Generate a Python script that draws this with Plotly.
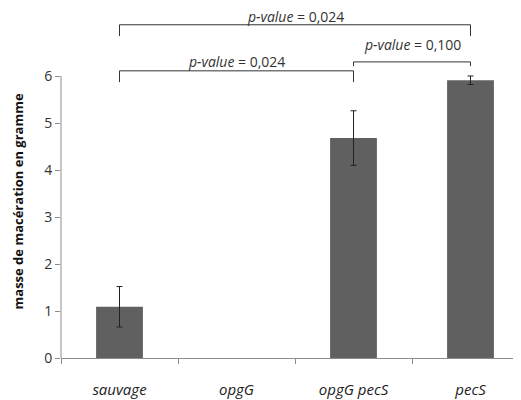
import plotly.graph_objects as go

# Données
souches = ['sauvage', 'opgG', 'opgG pecS', 'pecS']
masse = [1.09, 0.0, 4.68, 5.91]
erreur = [0.43, 0.0, 0.58, 0.09]

# comparaisons : (indice gauche, indice droit, hauteur barre, hauteur pieds, texte, hauteur texte)
comparaisons = [
    (0, 3, 7.09, 6.85, 'p-value = 0,024', 7.27),
    (2, 3, 6.30, 6.21, 'p-value = 0,100', 6.67),
    (0, 2, 6.11, 5.87, 'p-value = 0,024', 6.31),
]

GRIS_BARRE = '#606060'
GRIS_AXE = '#8c8c8c'
POLICE = 'Open Sans'

# une barre nulle n'est pas dessinée (ni sa barre d'erreur)
y_barres = [v if v > 0 else None for v in masse]
err_barres = [e if v > 0 else None for v, e in zip(masse, erreur)]

fig = go.Figure()
fig.add_trace(go.Bar(
    x=[f'<i>{s}</i>' for s in souches],
    y=y_barres,
    width=0.4,
    marker=dict(color=GRIS_BARRE, line=dict(width=0)),
    error_y=dict(type='data', array=err_barres, color='#222222', thickness=1, width=3),
    showlegend=False
))

# crochets des p-values
for i, j, y_haut, y_pied, texte, y_texte in comparaisons:
    fig.add_shape(type='path',
                  path=f'M {i},{y_pied} L {i},{y_haut} L {j},{y_haut} L {j},{y_pied}',
                  xref='x', yref='y', line=dict(color='#333333', width=1))
    pv, reste = texte.split(' = ')
    fig.add_annotation(x=(i + j) / 2, y=y_texte, xref='x', yref='y',
                       text=f'<i>{pv}</i> = {reste}', showarrow=False,
                       font=dict(family=POLICE, size=14, color='#333333'))

# ligne de l'axe y seulement de 0 à 6
fig.add_shape(type='line', xref='paper', yref='y', x0=0, x1=0, y0=0, y1=6,
              line=dict(color=GRIS_AXE, width=1))

# titre de l'axe y
fig.add_annotation(x=0, y=3.33, xref='paper', yref='y', xshift=-43,
                   text='<b>masse de macération en gramme</b>', textangle=-90,
                   showarrow=False, xanchor='center', yanchor='middle',
                   font=dict(family=POLICE, size=13, color='#111111'))

fig.update_layout(
    width=521, height=400,
    margin=dict(l=53, r=0, t=0, b=50, autoexpand=False),
    plot_bgcolor='white', paper_bgcolor='white',
    font=dict(family=POLICE, color='#333333'),
    xaxis=dict(
        range=[-0.5, 3.5],
        showline=True, linecolor=GRIS_AXE, linewidth=1,
        ticks='outside', tickson='boundaries', ticklen=5, tickcolor=GRIS_AXE,
        tickfont=dict(size=15, color='#222222'), ticklabelstandoff=18,
        showgrid=False, zeroline=False, automargin=False
    ),
    yaxis=dict(
        range=[0, 7.447],
        tickvals=[0, 1, 2, 3, 4, 5, 6],
        ticks='outside', ticklen=5, tickcolor=GRIS_AXE,
        tickfont=dict(size=14, color='#333333'),
        showline=False, showgrid=False, zeroline=False, automargin=False
    )
)

fig.write_html('out.html')
